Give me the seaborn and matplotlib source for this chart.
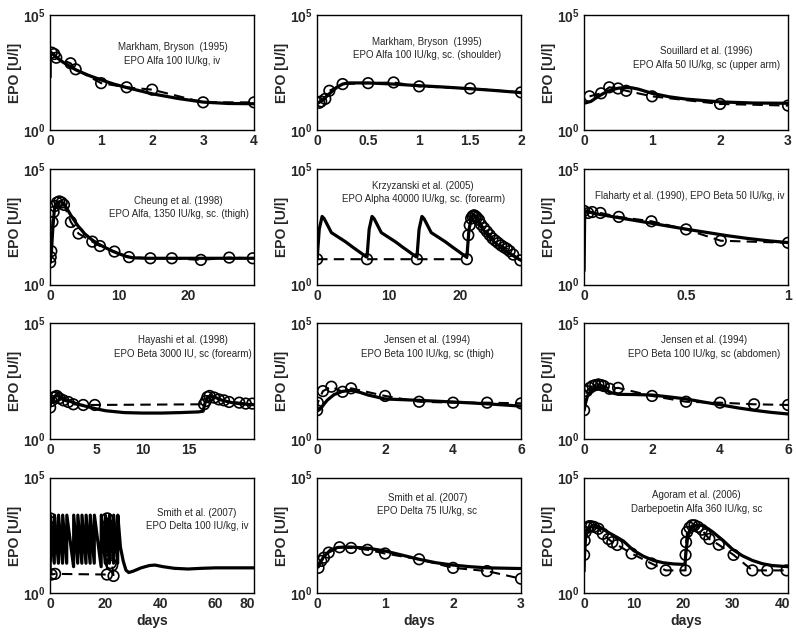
"""
EPO concentration-time profiles: model (solid) vs. observed data (dashed + circles)
"""
import numpy as np
import pandas as pd
import matplotlib
matplotlib.use("Agg")
import matplotlib.pyplot as plt
import seaborn as sns

# ---- data (log10 of EPO in U/l) ----
# panel 1: Markham, Bryson 1995, iv
p1_t_model = [0, 0.001, 0.1, 0.25, 0.5, 0.75, 1, 1.25, 1.5, 2, 2.5, 3, 3.5, 4]
p1_model = [2.3, 3.4, 3.2, 2.95, 2.62, 2.38, 2.18, 2.0, 1.85, 1.58, 1.38, 1.22, 1.16, 1.15]
p1_t_obs = [0.03, 0.08, 0.12, 0.4, 0.5, 1, 1.5, 2, 3, 4]
p1_obs = [3.36, 3.3, 3.14, 2.9, 2.64, 2.04, 1.86, 1.76, 1.21, 1.21]

# panel 2: Markham, Bryson 1995, sc shoulder
p2_t_model = [0, 0.05, 0.1, 0.15, 0.2, 0.25, 0.3, 0.5, 0.75, 1, 1.25, 1.5, 1.75, 2]
p2_model = [1.15, 1.3, 1.5, 1.7, 1.88, 2.0, 2.05, 2.05, 2.0, 1.93, 1.87, 1.8, 1.72, 1.63]
p2_t_obs = [0.02, 0.04, 0.08, 0.12, 0.25, 0.5, 0.75, 1, 1.5, 2]
p2_obs = [1.19, 1.25, 1.36, 1.71, 2.0, 2.04, 2.07, 1.9, 1.81, 1.64]

# panel 3: Souillard 1996
p3_t_model = [0, 0.1, 0.2, 0.3, 0.4, 0.5, 0.6, 0.7, 0.8, 1, 1.25, 1.5, 2, 2.5, 3]
p3_model = [1.17, 1.25, 1.45, 1.62, 1.75, 1.82, 1.85, 1.84, 1.78, 1.6, 1.45, 1.35, 1.23, 1.18, 1.17]
p3_t_obs = [0.08, 0.25, 0.37, 0.5, 0.62, 1, 2, 3]
p3_obs = [1.47, 1.6, 1.86, 1.81, 1.71, 1.47, 1.14, 1.07]

# panel 4: Cheung 1998
p4_t_model = [0, 0.2, 0.4, 0.6, 0.8, 1, 1.5, 2, 2.5, 3, 4, 5, 6, 7, 8, 9, 10, 11, 12, 14, 17, 20, 25, 29.5]
p4_model = [0.95, 1.5, 2.5, 3.2, 3.45, 3.55, 3.6, 3.5, 3.25, 3.0, 2.55, 2.2, 1.95, 1.75,
            1.6, 1.45, 1.33, 1.22, 1.16, 1.14, 1.14, 1.14, 1.14, 1.14]
p4_t_obs = [0.0, 0.08, 0.17, 0.33, 0.5, 0.67, 1, 1.33, 1.67, 2, 3, 4.1, 6.1, 7.2, 9.3,
            11.4, 14.5, 17.6, 21.8, 25.9, 29.3]
p4_obs = [0.96, 1.19, 1.45, 2.71, 3.14, 3.4, 3.55, 3.6, 3.55, 3.45, 2.71, 2.21, 1.86,
          1.67, 1.43, 1.19, 1.14, 1.14, 1.07, 1.17, 1.14]

# panel 5: Krzyzanski 2005, weekly dosing
p5_t_model = [0, 0.3, 0.7, 1.0, 2, 3, 4, 5, 6, 6.9, 7.0, 7.3, 7.7, 8, 9, 10, 11, 12, 13, 13.9,
              14, 14.3, 14.7, 15, 16, 17, 18, 19, 20, 20.9, 21, 21.3, 21.7, 22, 22.5, 23,
              24, 25, 26, 27, 28, 28.6]
p5_model = [1.1, 2.4, 2.95, 2.85, 2.25, 2.05, 1.85, 1.62, 1.4, 1.2, 1.2, 2.4, 2.95, 2.85,
            2.25, 2.05, 1.85, 1.62, 1.4, 1.2, 1.2, 2.4, 2.95, 2.85, 2.25, 2.05, 1.85, 1.62,
            1.4, 1.2, 1.2, 2.4, 2.95, 3.0, 2.8, 2.5, 2.1, 1.8, 1.55, 1.35, 1.15, 1.05]
p5_t_obs = [0, 7, 14, 21, 21.2, 21.4, 21.6, 21.8, 22, 22.2, 22.4, 22.7, 23, 23.4, 23.8,
            24.2, 24.6, 25, 25.4, 25.8, 26.2, 26.6, 27, 27.5, 28.5]
p5_obs = [1.1, 1.1, 1.1, 1.1, 2.14, 2.57, 2.86, 2.96, 3.0, 2.96, 2.9, 2.8, 2.6, 2.45, 2.3,
          2.15, 2.0, 1.9, 1.8, 1.7, 1.62, 1.55, 1.45, 1.3, 1.05]

# panel 6: Flaharty 1990
p6_t_model = [0, 0.003, 0.05, 0.1, 0.2, 0.3, 0.4, 0.5, 0.6, 0.7, 0.8, 0.9, 1.0]
p6_model = [0.6, 3.2, 3.08, 3.0, 2.85, 2.7, 2.55, 2.4, 2.26, 2.12, 2.0, 1.9, 1.82]
p6_t_obs = [0.0, 0.02, 0.04, 0.08, 0.17, 0.33, 0.5, 0.67, 1.0]
p6_obs = [3.19, 3.1, 3.14, 3.1, 2.93, 2.74, 2.39, 1.9, 1.81]

# panel 7: Hayashi 1998
p7_t_model = [0, 0.2, 0.5, 0.8, 1.2, 2, 3, 4, 5, 6, 8, 10, 12, 14, 16, 16.5, 16.7, 17,
              17.3, 17.8, 18.5, 19.5, 20.5, 22]
p7_model = [1.45, 1.7, 1.85, 1.87, 1.8, 1.65, 1.5, 1.4, 1.3, 1.22, 1.14, 1.12, 1.12, 1.14,
            1.17, 1.2, 1.55, 1.82, 1.86, 1.8, 1.68, 1.58, 1.52, 1.48]
p7_t_obs = [0, 0.15, 0.36, 0.54, 0.71, 1.0, 1.43, 1.96, 2.5, 3.57, 4.82, 16.6, 16.8,
            16.96, 17.2, 17.7, 18.2, 18.75, 19.3, 20.4, 21.1, 21.8]
p7_obs = [1.36, 1.64, 1.79, 1.82, 1.86, 1.76, 1.67, 1.6, 1.5, 1.47, 1.47, 1.5, 1.64, 1.81,
          1.86, 1.79, 1.71, 1.67, 1.6, 1.57, 1.53, 1.53]

# panel 8: Jensen 1994, thigh
p8_t_model = [0, 0.1, 0.2, 0.3, 0.5, 0.75, 1, 1.25, 1.5, 2, 2.5, 3, 4, 5, 6]
p8_model = [1.21, 1.3, 1.5, 1.68, 1.92, 2.06, 2.1, 2.02, 1.9, 1.73, 1.7, 1.67, 1.6, 1.52, 1.42]
p8_t_obs = [0, 0.02, 0.17, 0.42, 0.75, 1, 2, 3, 4, 5, 6]
p8_obs = [1.24, 1.57, 2.07, 2.26, 2.04, 2.19, 1.86, 1.61, 1.57, 1.57, 1.54]

# panel 9: Jensen 1994, abdomen
p9_t_model = [0, 0.05, 0.1, 0.2, 0.3, 0.4, 0.5, 0.6, 0.8, 1, 1.5, 2, 2.5, 3, 3.5, 4, 4.5,
              5, 5.5, 6]
p9_model = [1.24, 1.6, 1.85, 2.1, 2.22, 2.25, 2.22, 2.15, 2.0, 1.93, 1.92, 1.9, 1.82,
            1.73, 1.6, 1.48, 1.35, 1.24, 1.15, 1.08]
p9_t_obs = [0, 0.08, 0.17, 0.25, 0.33, 0.42, 0.5, 0.58, 0.75, 1, 2, 3, 4, 5, 6]
p9_obs = [1.24, 2.07, 2.21, 2.29, 2.33, 2.36, 2.33, 2.29, 2.17, 2.21, 1.86, 1.61, 1.57,
          1.5, 1.47]

# panel 10: Smith 2007, iv, repeated dosing
p10_t_model = [0, 0.05, 1.5, 1.55, 3, 3.05, 4.5, 4.55, 6, 6.05, 8.5, 8.55, 10, 10.05,
               11.5, 11.55, 13, 13.05, 14.5, 14.55, 16, 16.05, 18.5, 18.55, 20, 20.05,
               21.5, 21.55, 23, 23.05, 24.5, 24.55, 25.5, 26.5, 27.5, 28.5, 30, 33, 36,
               38, 41, 45, 50, 55, 60, 65, 70, 74]
p10_model = [1.1, 3.38, 1.3, 3.38, 1.3, 3.38, 1.3, 3.38, 1.3, 3.38, 1.15, 3.38, 1.3, 3.38,
             1.3, 3.38, 1.3, 3.38, 1.3, 3.38, 1.3, 3.38, 1.15, 3.38, 1.3, 3.38, 1.3, 3.38,
             1.3, 3.38, 1.3, 3.38, 2.0, 1.4, 1.0, 0.9, 0.95, 1.1, 1.2, 1.22, 1.15, 1.08,
             1.05, 1.08, 1.1, 1.1, 1.1, 1.1]
p10_t_obs = [0.01, 0.03, 0.06, 0.1, 0.15, 0.3, 0.5, 1.8, 20.6, 20.7, 20.8, 21, 21.2,
             21.5, 22, 22.5, 23]
p10_obs = [3.24, 3.09, 2.87, 2.65, 2.5, 1.84, 0.81, 0.84, 0.81, 3.24, 2.9, 2.6, 2.2,
           1.84, 1.3, 1.2, 0.75]

# panel 11: Smith 2007, sc
p11_t_model = [0, 0.05, 0.1, 0.2, 0.3, 0.4, 0.5, 0.75, 1, 1.25, 1.5, 1.75, 2, 2.25, 2.5, 3]
p11_model = [1.1, 1.35, 1.6, 1.88, 1.98, 2.0, 2.0, 1.95, 1.83, 1.65, 1.47, 1.32, 1.22,
             1.15, 1.1, 1.07]
p11_t_obs = [0.02, 0.06, 0.1, 0.17, 0.33, 0.5, 0.74, 1, 1.5, 2, 2.5, 3]
p11_obs = [1.1, 1.4, 1.54, 1.76, 1.99, 1.96, 1.88, 1.72, 1.47, 1.1, 0.96, 0.63]

# panel 12: Agoram 2006, darbepoetin
p12_t_model = [0, 0.05, 0.3, 0.7, 1, 1.5, 2, 3, 4, 5, 6, 7, 8, 10, 12, 14, 16, 18, 20,
               20.4, 20.5, 20.9, 21.3, 21.8, 22.4, 23, 24, 25, 26, 28, 30, 32, 34, 36, 38,
               41.2]
p12_model = [0.95, 1.5, 2.4, 2.7, 2.8, 2.9, 2.95, 2.88, 2.75, 2.62, 2.5, 2.38, 2.25,
             1.85, 1.6, 1.42, 1.32, 1.27, 1.25, 1.25, 1.6, 2.4, 2.7, 2.85, 2.92, 2.95,
             2.92, 2.8, 2.65, 2.3, 1.9, 1.62, 1.42, 1.28, 1.2, 1.15]
p12_t_obs = [0, 0.1, 0.3, 0.7, 1, 1.4, 2, 2.9, 3.8, 4.9, 5.7, 6.7, 9.6, 13.6, 16.5, 20.5,
             20.5, 20.6, 20.8, 21.3, 21.8, 22.3, 23, 23.8, 24.5, 25.3, 27.2, 30.2, 34, 37,
             40.9]
p12_obs = [1.66, 2.28, 2.65, 2.84, 2.9, 2.9, 2.87, 2.79, 2.57, 2.35, 2.21, 2.09, 1.72,
           1.29, 0.99, 0.99, 1.66, 2.21, 2.65, 2.84, 2.94, 2.94, 2.87, 2.75, 2.55, 2.35,
           2.1, 1.66, 0.99, 0.99, 0.99]

titles = [
    "Markham, Bryson  (1995)\nEPO Alfa 100 IU/kg, iv",
    "Markham, Bryson  (1995)\nEPO Alfa 100 IU/kg, sc. (shoulder)",
    "Souillard et al. (1996)\nEPO Alfa 50 IU/kg, sc (upper arm)",
    "Cheung et al. (1998)\nEPO Alfa, 1350 IU/kg, sc. (thigh)",
    "Krzyzanski et al. (2005)\nEPO Alpha 40000 IU/kg, sc. (forearm)",
    "Flaharty et al. (1990), EPO Beta 50 IU/kg, iv",
    "Hayashi et al. (1998)\nEPO Beta 3000 IU, sc (forearm)",
    "Jensen et al. (1994)\nEPO Beta 100 IU/kg, sc (thigh)",
    "Jensen et al. (1994)\nEPO Beta 100 IU/kg, sc (abdomen)",
    "Smith et al. (2007)\nEPO Delta 100 IU/kg, iv",
    "Smith et al. (2007)\nEPO Delta 75 IU/kg, sc",
    "Agoram et al. (2006)\nDarbepoetin Alfa 360 IU/kg, sc",
]
x_limits = [4, 2, 3, 29.5, 28.6, 1, 22, 6, 6, 74, 3, 41.2]
x_ticks = [[0, 1, 2, 3, 4], [0, 0.5, 1, 1.5, 2], [0, 1, 2, 3], [0, 10, 20], [0, 10, 20],
           [0, 0.5, 1], [0, 5, 10, 15], [0, 2, 4, 6], [0, 2, 4, 6], [0, 20, 40, 60, 71.5],
           [0, 1, 2, 3], [0, 10, 20, 30, 40]]
x_tick_labels = [["0", "1", "2", "3", "4"], ["0", "0.5", "1", "1.5", "2"],
                 ["0", "1", "2", "3"], ["0", "10", "20"], ["0", "10", "20"],
                 ["0", "0.5", "1"], ["0", "5", "10", "15"], ["0", "2", "4", "6"],
                 ["0", "2", "4", "6"], ["0", "20", "40", "60", "80"],
                 ["0", "1", "2", "3"], ["0", "10", "20", "30", "40"]]
title_pos = [(0.60, 0.66), (0.54, 0.71), (0.60, 0.625), (0.63, 0.667), (0.52, 0.80),
             (0.52, 0.77), (0.65, 0.795), (0.54, 0.795), (0.59, 0.795), (0.72, 0.64),
             (0.54, 0.77), (0.55, 0.79)]

panels = [
    (p1_t_model, p1_model, p1_t_obs, p1_obs),
    (p2_t_model, p2_model, p2_t_obs, p2_obs),
    (p3_t_model, p3_model, p3_t_obs, p3_obs),
    (p4_t_model, p4_model, p4_t_obs, p4_obs),
    (p5_t_model, p5_model, p5_t_obs, p5_obs),
    (p6_t_model, p6_model, p6_t_obs, p6_obs),
    (p7_t_model, p7_model, p7_t_obs, p7_obs),
    (p8_t_model, p8_model, p8_t_obs, p8_obs),
    (p9_t_model, p9_model, p9_t_obs, p9_obs),
    (p10_t_model, p10_model, p10_t_obs, p10_obs),
    (p11_t_model, p11_model, p11_t_obs, p11_obs),
    (p12_t_model, p12_model, p12_t_obs, p12_obs),
]

sns.set_style("white")
plt.rcParams["font.family"] = ["Liberation Sans", "DejaVu Sans"]
plt.rcParams["mathtext.fontset"] = "custom"
plt.rcParams["mathtext.rm"] = "Liberation Sans"
plt.rcParams["mathtext.bf"] = "Liberation Sans:bold"

fig, axes = plt.subplots(4, 3, figsize=(7.96, 6.4), dpi=100)
fig.subplots_adjust(left=0.063, right=0.99, bottom=0.073, top=0.977,
                    wspace=0.309, hspace=0.335)

for i, ax in enumerate(axes.flat):
    t_model, model, t_obs, obs = panels[i]
    model_df = pd.DataFrame({"t": t_model, "epo": 10 ** np.array(model)})
    obs_df = pd.DataFrame({"t": t_obs, "epo": 10 ** np.array(obs)})

    sns.lineplot(data=obs_df, x="t", y="epo", ax=ax, color="black", lw=1.5,
                 linestyle=(0, (5, 3)), estimator=None, sort=False)
    sns.lineplot(data=model_df, x="t", y="epo", ax=ax, color="black", lw=2.3,
                 estimator=None, sort=False)
    sns.scatterplot(data=obs_df, x="t", y="epo", ax=ax, marker="o", s=58,
                    facecolor="none", edgecolor="black", linewidth=1.2, zorder=3)

    ax.set_yscale("log")
    ax.set_ylim(1, 1e5)
    ax.set_yticks([1, 1e5])
    ax.set_yticklabels([r"$\mathbf{10^{0}}$", r"$\mathbf{10^{5}}$"])
    ax.minorticks_off()
    ax.set_xlim(0, x_limits[i])
    ax.set_xticks(x_ticks[i])
    ax.set_xticklabels(x_tick_labels[i], fontweight="bold")
    ax.tick_params(direction="in", length=3, labelsize=10, pad=3)
    for s in ax.spines.values():
        s.set_color("black")
        s.set_linewidth(1.0)

    ax.set_ylabel("EPO [U/l]", fontsize=10, fontweight="bold", labelpad=1)
    if i >= 9:
        ax.set_xlabel("days", fontsize=10, fontweight="bold", labelpad=2)
    else:
        ax.set_xlabel("")

    tx, ty = title_pos[i]
    ax.text(tx, ty, titles[i], transform=ax.transAxes, ha="center", va="center",
            fontsize=7, linespacing=1.4)

fig.savefig("out.png", dpi=100)
